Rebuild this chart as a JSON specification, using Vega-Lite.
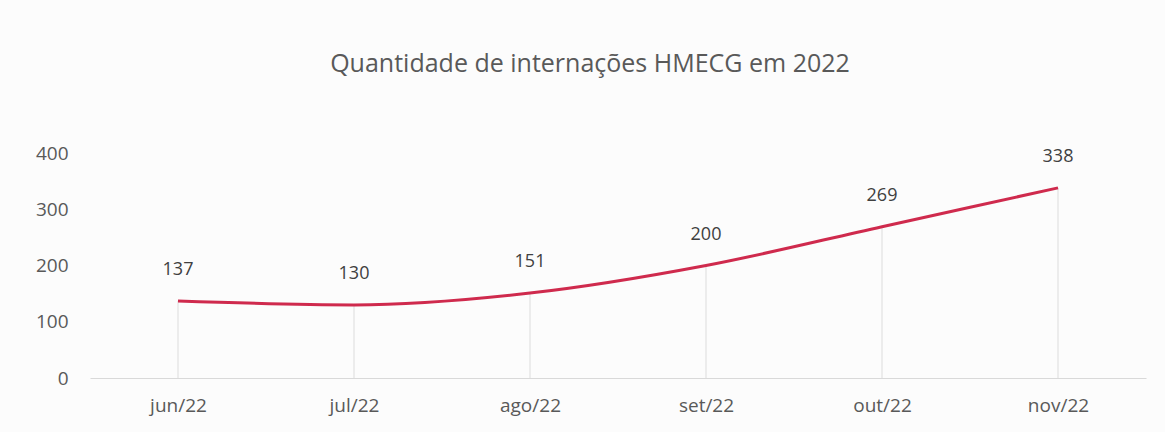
{
  "$schema": "https://vega.github.io/schema/vega-lite/v6.json",
  "width": 1056,
  "height": 225,
  "autosize": {"type": "none"},
  "padding": {"left": 90, "top": 153, "right": 19, "bottom": 54},
  "background": "#fcfcfc",
  "title": {
    "text": "Quantidade de internações HMECG em 2022",
    "font": "Open Sans",
    "fontSize": 25,
    "fontWeight": "normal",
    "color": "#595959",
    "anchor": "middle",
    "dx": -28,
    "offset": 67
  },
  "data": {
    "values": [
      {"mes": "jun/22", "internacoes": 137},
      {"mes": "jul/22", "internacoes": 130},
      {"mes": "ago/22", "internacoes": 151},
      {"mes": "set/22", "internacoes": 200},
      {"mes": "out/22", "internacoes": 269},
      {"mes": "nov/22", "internacoes": 338}
    ]
  },
  "encoding": {
    "x": {
      "field": "mes",
      "type": "ordinal",
      "sort": null,
      "scale": {"type": "point", "padding": 0.5},
      "axis": {
        "title": null,
        "labelAngle": 0,
        "labelFont": "Open Sans",
        "labelFontSize": 19,
        "labelColor": "#595959",
        "labelPadding": 18,
        "ticks": false,
        "domainColor": "#d9d9d9",
        "domainWidth": 1,
        "grid": false
      }
    },
    "y": {
      "field": "internacoes",
      "type": "quantitative",
      "scale": {"domain": [0, 400]},
      "axis": {
        "title": null,
        "values": [0, 100, 200, 300, 400],
        "labelFont": "Open Sans",
        "labelFontSize": 19,
        "labelColor": "#595959",
        "labelPadding": 22,
        "ticks": false,
        "domain": false,
        "grid": false
      }
    }
  },
  "layer": [
    {
      "mark": {"type": "rule", "color": "#dcdcdc", "strokeWidth": 1},
      "encoding": {"y": {"datum": 0}, "y2": {"field": "internacoes"}}
    },
    {
      "mark": {"type": "line", "color": "#cf2a4d", "strokeWidth": 3, "interpolate": "monotone"}
    },
    {
      "mark": {"type": "text", "dy": -31, "font": "Open Sans", "fontSize": 18, "color": "#404040"},
      "encoding": {"text": {"field": "internacoes", "type": "quantitative"}}
    }
  ],
  "config": {"view": {"stroke": null}}
}
